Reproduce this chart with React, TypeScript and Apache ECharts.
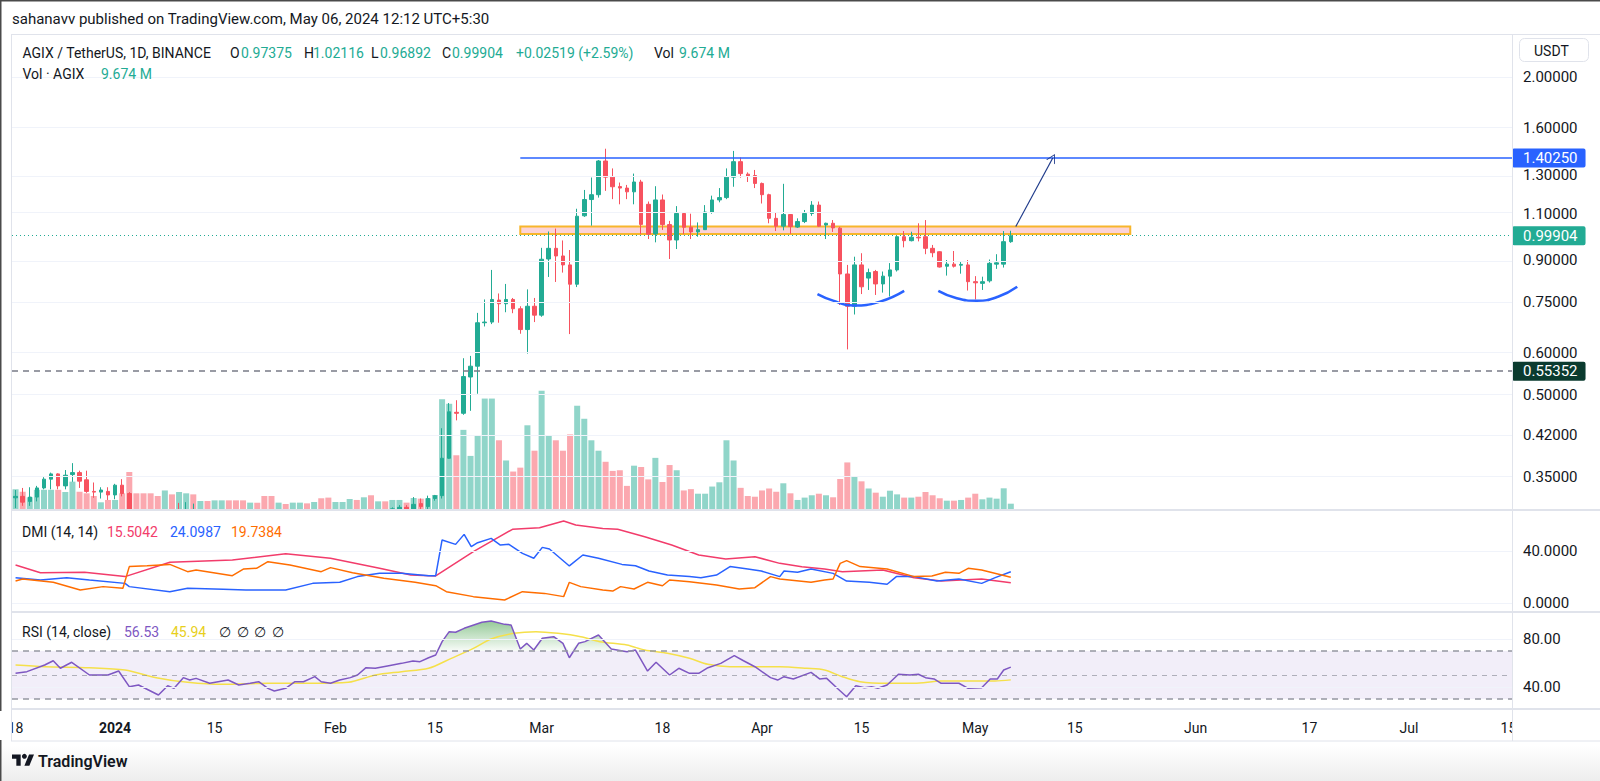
import React, { useEffect, useRef } from 'react';
import * as echarts from 'echarts';

// ---------- data ----------
const START_UTC = Date.UTC(2023, 11, 18);
const N_DAYS = 211; // Dec 18 2023 .. Jul 15 2024

const OPEN = [
  0.319,0.321,0.314,0.320,0.333,0.346,0.354,0.336,0.353,0.356,
  0.345,0.328,0.327,0.328,0.323,0.337,0.325,0.285,0.280,0.272,
  0.266,0.262,0.279,0.272,0.291,0.298,0.283,0.288,0.279,0.284,
  0.289,0.281,0.272,0.262,0.266,0.258,0.246,0.238,0.245,0.241,
  0.249,0.256,0.251,0.259,0.250,0.243,0.251,0.258,0.272,0.268,
  0.284,0.279,0.293,0.289,0.302,0.306,0.300,0.311,0.307,0.318,
  0.322,0.379,0.463,0.461,0.540,0.566,0.684,0.686,0.755,0.743,
  0.757,0.727,0.664,0.735,0.707,0.903,0.946,0.915,0.880,0.809,
  1.09,1.17,1.195,1.384,1.29,1.238,1.23,1.21,1.263,1.146,
  1.007,1.168,1.049,0.981,1.101,1.037,1.016,1.026,1.108,1.168,
  1.18,1.29,1.38,1.307,1.299,1.255,1.195,1.078,1.042,1.096,
  1.038,1.063,1.101,1.142,1.047,1.055,1.033,0.846,0.735,0.880,
  0.831,0.855,0.810,0.838,0.861,0.995,0.978,0.993,0.995,0.946,
  0.932,0.875,0.883,0.879,0.880,0.818,0.812,0.821,0.883,0.883,
  0.97375,
];
const HIGH = [
  0.330,0.333,0.334,0.336,0.349,0.356,0.355,0.360,0.371,0.359,
  0.359,0.341,0.334,0.334,0.339,0.346,0.327,0.303,0.288,0.278,
  0.272,0.284,0.286,0.312,0.313,0.311,0.294,0.292,0.289,0.294,
  0.292,0.285,0.275,0.270,0.268,0.261,0.250,0.249,0.247,0.252,
  0.259,0.258,0.262,0.263,0.253,0.254,0.261,0.275,0.276,0.288,
  0.291,0.297,0.298,0.306,0.309,0.309,0.320,0.318,0.322,0.323,
  0.432,0.482,0.488,0.586,0.592,0.714,0.757,0.861,0.777,0.810,
  0.762,0.735,0.791,0.762,0.948,1.018,1.031,0.979,0.939,1.124,
  1.22,1.288,1.39,1.46,1.34,1.26,1.247,1.31,1.275,1.16,
  1.24,1.196,1.066,1.137,1.105,1.10,1.059,1.142,1.19,1.23,
  1.34,1.446,1.405,1.317,1.331,1.26,1.20,1.107,1.253,1.098,
  1.078,1.118,1.162,1.16,1.058,1.07,1.039,0.880,0.912,0.926,
  0.866,0.861,0.855,0.887,0.998,1.02,1.017,1.055,1.07,0.96,
  0.934,0.899,0.935,0.894,0.899,0.838,0.836,0.901,0.922,1.02,
  1.02116,
];
const LOW = [
  0.305,0.308,0.308,0.314,0.331,0.331,0.331,0.331,0.342,0.333,
  0.326,0.319,0.318,0.316,0.317,0.321,0.262,0.268,0.262,0.255,
  0.250,0.258,0.266,0.270,0.284,0.276,0.278,0.272,0.274,0.280,
  0.276,0.266,0.255,0.258,0.252,0.240,0.232,0.235,0.237,0.239,
  0.246,0.248,0.249,0.246,0.240,0.241,0.249,0.256,0.263,0.266,
  0.274,0.277,0.284,0.286,0.296,0.294,0.297,0.300,0.302,0.315,
  0.318,0.378,0.447,0.458,0.466,0.502,0.673,0.680,0.684,0.716,
  0.713,0.652,0.598,0.686,0.702,0.835,0.817,0.851,0.651,0.799,
  1.085,1.044,1.18,1.215,1.172,1.146,1.172,1.146,1.006,0.985,
  0.971,1.025,0.903,0.943,1.006,0.985,0.995,1.025,1.10,1.156,
  1.172,1.237,1.287,1.263,1.23,1.15,1.055,1.02,1.023,1.007,
  1.034,1.056,1.09,1.038,0.985,1.016,0.739,0.609,0.709,0.775,
  0.789,0.772,0.780,0.767,0.855,0.95,0.975,0.975,0.922,0.91,
  0.87,0.84,0.87,0.847,0.787,0.757,0.789,0.815,0.865,0.87,
  0.96892,
];
const CLOSE = [
  0.321,0.313,0.320,0.333,0.346,0.354,0.336,0.352,0.356,0.343,
  0.328,0.327,0.330,0.323,0.337,0.325,0.285,0.280,0.272,0.266,
  0.262,0.279,0.272,0.291,0.298,0.283,0.288,0.279,0.284,0.289,
  0.281,0.272,0.262,0.266,0.258,0.246,0.238,0.245,0.241,0.249,
  0.256,0.251,0.259,0.250,0.243,0.251,0.258,0.272,0.268,0.284,
  0.279,0.293,0.289,0.304,0.306,0.300,0.310,0.307,0.318,0.322,
  0.379,0.464,0.461,0.541,0.566,0.684,0.686,0.757,0.743,0.757,
  0.727,0.664,0.735,0.707,0.902,0.946,0.915,0.880,0.809,1.088,
  1.17,1.195,1.384,1.29,1.237,1.23,1.21,1.263,1.05,1.006,
  1.168,1.049,0.981,1.101,1.037,1.016,1.026,1.108,1.168,1.18,
  1.29,1.38,1.31,1.297,1.255,1.195,1.078,1.042,1.096,1.04,
  1.063,1.101,1.142,1.042,1.055,1.034,0.846,0.735,0.880,0.800,
  0.851,0.810,0.838,0.861,0.995,0.978,0.993,0.990,0.946,0.928,
  0.872,0.883,0.875,0.882,0.818,0.814,0.818,0.886,0.888,0.97385,
  0.99904,
];
// volume in millions
const VOLUME = [
  32,28,19.5,31,31,31,31,27.6,43.5,28,
  25.6,21.5,11.8,15.4,15.4,25.6,58.3,25.6,25.6,25.6,
  21.5,30,24,27.6,25.6,24,13.8,13.8,14.8,14.8,
  14.8,14.8,14.8,11.3,11.3,21.5,21.5,11.3,9.2,11.3,
  11.3,10.2,12.3,18,19,12.3,12.3,16.9,15.4,19.5,
  22.6,13.3,13.3,15.4,15.4,11.3,18.4,17.4,17.9,23,
  170,163,84,123,83,115,171,171,107,76,
  59,65,130,91,183,115,107,91,116,160,
  140,107,91,74,60,61,37,68,66,47,
  80,43,69,61,30,32,25,25,36,42.5,
  107,76,34,21.5,20.4,30,33,28,41,25.6,
  15.4,19,22.6,25,22.6,19.5,47.6,73,52,44,
  33,26.6,20.4,29.6,24,19,19,20.4,27.6,22.6,
  18,14.3,14.3,15.4,19,25,16.4,19,17.4,33.3,
  9.674,
];

// DMI : [day index, value]
const ADX: [number, number][] = [
  [0,29.2],[3.5,23.3],[9.7,23.6],[15.4,20.3],[21.7,31.3],[30.5,33.1],[38,37.9],[44.3,34.4],
  [51.2,26.7],[55.6,21.5],[59.1,20.8],[64.4,39.5],[69.9,56.7],[73.7,57.9],[77.1,63.1],[78.8,60],
  [82.6,57.4],[84.7,56.7],[88.5,51],[92.3,44.6],[96.1,36.9],[99.9,33.8],[104,35.6],[107.5,30.5],
  [110.6,27.9],[113.8,26.2],[116.3,24.1],[122,25.4],[126.4,19.5],[130.2,16.9],[135.9,18.5],[140,15.5042],
];
const PLUS_DI: [number, number][] = [
  [0,19.5],[3.5,17.7],[7.2,19.5],[10.4,17.7],[15.4,15.1],[16,12.6],[21.7,8.7],[24.2,11.3],
  [29.2,10.5],[32.4,10],[38,10],[41.8,15.1],[45.6,15.9],[48.1,20.3],[51.2,22.8],[54.3,22.8],
  [58.1,21],[59.1,21],[60,48.5],[61.9,45.1],[63.1,52.8],[64.1,43.3],[65,46.4],[66.9,49.7],
  [68.2,44.6],[69.4,45.1],[71.3,38.2],[72.9,34.4],[74.1,42.8],[75.1,41.5],[77.9,28.5],[79.8,36.9],
  [82,34.4],[85.3,29.7],[87.2,28.7],[89.1,24.6],[91.7,21.5],[94.8,20.3],[96.4,19.5],[98.6,21.5],
  [100.5,28],[103,26.2],[104.9,24.6],[107.5,20.3],[108.1,24.6],[110,23.6],[111.9,26.2],[115,22.8],
  [116.9,16.9],[120.1,15.9],[122.6,14.4],[123.9,20.3],[126.4,20.3],[129.6,16.9],[132.7,18.5],
  [135.9,15.1],[137.8,19.5],[140,24.0987],
];
const MINUS_DI: [number, number][] = [
  [0,16.9],[1,18.5],[5.3,15.9],[9.1,10],[12.3,12.6],[15.1,11.3],[16,28],[18.5,28.7],
  [21.7,29.7],[24.2,24.1],[25.4,25.4],[30.5,21],[32.1,26.2],[33.9,26.7],[35.5,31.8],[38.6,29.2],
  [43,24.1],[44.3,27.2],[47.4,23.3],[51.8,19],[56.2,15.9],[59.1,13.3],[60.6,8.7],[64.4,4.9],
  [68.8,2.3],[71.3,8.7],[74.4,7.4],[77.1,4.9],[77.9,15.9],[79.5,12.6],[82.6,10],[84,9.2],
  [85.1,12.6],[87,10.8],[88.9,15.9],[91,13.3],[92,17.7],[94.8,16.4],[98.6,13.8],[101.8,10.8],
  [104,11.8],[106.2,20.3],[107.5,18.5],[111.9,15.9],[113.8,17.7],[115,18.5],[116,30.5],[116.9,32.6],
  [118.8,28],[122.6,26.2],[126.4,20.3],[128.9,20.8],[130.8,23.6],[132.7,22.8],[134,26.7],
  [135.9,25.4],[140,19.7384],
];
// RSI (14) and its moving average : [day index, value]
const RSI: [number, number][] = [
  [0,51.4],[1.6,52.8],[4.1,58.3],[5.3,61.9],[6.3,55.6],[7.9,60.6],[10.4,50],[13,50],
  [14.5,53.3],[16,40.3],[17.3,41.7],[20.1,33.3],[21.4,41.1],[22.3,38.9],[23.6,47.8],[24.5,45.8],
  [25.4,47.2],[27.3,43.1],[29.9,45.8],[31.4,41.7],[33,43.1],[34.2,44.4],[35.5,38.9],[36.4,36.7],
  [38,38.9],[39.3,44.4],[40.5,44.4],[42.1,48.6],[43,44.4],[44.3,43.1],[45.6,45.8],[47.1,47.8],
  [48.1,50],[49.3,56.1],[50.6,55.6],[52.5,57.8],[54.3,59.7],[55.9,61.7],[56.9,61.1],[58.1,64.4],
  [59.1,66.7],[60,77.8],[61,86.1],[61.9,85.6],[63.1,88.9],[65.6,93.9],[66.9,95],[68.8,92.2],
  [69.7,91.7],[71,71.7],[71.9,76.4],[72.9,70.8],[74.1,80.6],[75.7,81.9],[77,76.4],[77.9,64.4],
  [79.2,76.4],[80.1,77.8],[82,83.3],[83.8,71.7],[86,69.4],[87.2,70.8],[88.9,53.3],[90.1,60.6],
  [92,50],[93.3,55.6],[94.8,51.4],[96.1,51.4],[97.4,56.1],[99.2,59.7],[101.1,66.1],[102.4,61.9],
  [104,56.9],[106.2,47.8],[107.2,45.8],[108.1,48.6],[109.4,46.7],[111.9,52.2],[113.1,46.7],
  [114.1,47.2],[115.7,38.3],[116.9,31.9],[118.2,41.1],[119.4,39.4],[120.4,40.3],[121.3,38.9],
  [122.6,41.7],[124.2,50.6],[125.8,50],[127,50.6],[128,47.8],[129.2,46.7],[130.2,43.1],
  [132.7,43.1],[134,38.9],[135.9,39.4],[137.1,46.7],[138.1,46.7],[139,54.2],[140,56.53],
];
const RSI_MA: [number, number][] = [
  [0,58.3],[4.1,56.9],[10.4,56.1],[15.4,54.2],[19.8,47.8],[24.2,43.9],[29.2,42.2],[35.5,43.1],
  [41.8,43.1],[46.8,43.9],[50.6,50],[54.3,52.8],[58.1,55.6],[61.3,63.9],[64.4,72.2],[66.9,80],
  [70.1,84.7],[73.2,86.1],[76.3,84.7],[79.5,81.9],[82.2,77.8],[86,75],[88.5,70.8],[91.7,68.1],
  [94.8,63.9],[97.4,58.9],[100.5,56.9],[103.6,56.9],[107.5,56.9],[111.3,55.6],[113.8,54.2],
  [116.3,48.6],[118.8,44.4],[122.6,43.1],[126.4,43.1],[130.2,45],[134,45],[137.8,45],[140,45.94],
];

const PRICE_TICKS = [2.0, 1.6, 1.3, 1.1, 0.9, 0.75, 0.6, 0.5, 0.42, 0.35];
const RESISTANCE = 1.4025;
const LAST_PRICE = 0.99904;
const SUPPORT = 0.55352;
const DMI_TICKS = [0, 40];
const RSI_TICKS = [40, 80];
const RSI_LEVELS = [70, 50, 30];
const TIME_LABELS: [number, string][] = [
  [0, '18'], [14, '2024'], [28, '15'], [45, 'Feb'], [59, '15'], [74, 'Mar'], [91, '18'],
  [105, 'Apr'], [119, '15'], [135, 'May'], [149, '15'], [166, 'Jun'], [182, '17'], [196, 'Jul'], [210, '15'],
];
// drawings (data space: [day index, price])
const RES_FROM = 71;
const ZONE: [number, number, number, number] = [71, 156.8, 1.0403, 1.0069];
const ARROW: [number, number][] = [[140.7, 1.04], [145.9, 1.4025]];
const ARC1: [number, number][] = [[112.8, 0.775], [115.0, 0.753], [117.8, 0.737], [121.6, 0.750], [125.0, 0.786]];
const ARC2: [number, number][] = [[129.8, 0.786], [132.4, 0.761], [135.2, 0.753], [138.2, 0.766], [140.9, 0.800]];

// ---------- styling ----------
const UP = '#22ab94';
const DOWN = '#f7525f';
const VUP = 'rgba(34,171,148,0.5)';
const VDOWN = 'rgba(247,82,95,0.5)';
const GRID_LINE = '#f0f3fa';
const FRAME = '#e0e3eb';
const TXT = '#131722';
const FONT = 'Roboto, "Noto Sans", sans-serif';

echarts.graphic.registerShape(
  'tvlogo',
  echarts.graphic.extendPath('M14 22H7V11H0V4h14v18zM28 22h-8l7.5-18h8L28 22z', {}) as any
);

const L = Math.log;
const YMIN = L(2) - (510 - 76.5) / 229.5;
const YMAX = L(2) + (76.5 - 36) / 229.5;

function buildOption() {
  const dates: string[] = [];
  for (let i = 0; i < N_DAYS; i++) {
    const d = new Date(START_UTC + i * 86400000);
    dates.push(d.toISOString().slice(0, 10));
  }
  const labelMap = new Map<number, string>(TIME_LABELS);

  // candles are cut at the bottom edge of the price pane (like the pane clipping)
  const clampLow = (v: number) => Math.max(L(v), YMIN);
  const candles = OPEN.map((o, i) => {
    if (L(HIGH[i]) < YMIN) return '-';
    return [clampLow(o), clampLow(CLOSE[i]), clampLow(LOW[i]), L(HIGH[i])];
  });
  const vols = VOLUME.map((v, i) => ({
    value: v,
    itemStyle: { color: CLOSE[i] >= OPEN[i] ? VUP : VDOWN },
  }));
  const logPts = (pts: [number, number][]) => pts.map(([x, p]) => [x, L(p)]);
  const rsiOB = RSI.filter(([x]) => x >= 59 && x <= 88.9).map(([x, v]) => [x, Math.max(v, 70)]);

  const hidden = { show: false };
  const noLine = { axisLine: hidden, axisTick: hidden, splitLine: hidden };

  const txt = (x: number, y: number, text: string, fill: string, size = 14, weight: any = 'normal', extra: any = {}) => ({
    type: 'text', x, y, silent: true, z: 50,
    style: { text, fill, fontSize: size, fontWeight: weight, fontFamily: FONT, verticalAlign: 'middle', align: 'left', ...extra },
  });
  const hline = (y: number, x1: number, x2: number, color = FRAME, w = 1) => ({
    type: 'line', silent: true, z: 40, shape: { x1, y1: y, x2, y2: y }, style: { stroke: color, lineWidth: w },
  });
  const vline = (x: number, y1: number, y2: number, color = FRAME, w = 1) => ({
    type: 'line', silent: true, z: 40, shape: { x1: x, y1, x2: x, y2 }, style: { stroke: color, lineWidth: w },
  });

  const gridSeries = (xi: number, yi: number, data: any[], area?: any) => ({
    type: 'line', xAxisIndex: xi, yAxisIndex: yi, data: [[-10, -1000]], silent: true, z: 0,
    showSymbol: false, lineStyle: { opacity: 0 },
    markLine: { silent: true, symbol: ['none', 'none'], label: { show: false }, data },
    ...(area ? { markArea: area } : {}),
  });

  const priceLabel = (v: number) => {
    const p = Math.exp(v);
    if (Math.abs(p - RESISTANCE) < 1e-4) return '{blue|' + RESISTANCE.toFixed(5) + '}';
    if (Math.abs(p - LAST_PRICE) < 1e-4) return '{teal|' + LAST_PRICE.toFixed(5) + '}';
    return '{dark|' + SUPPORT.toFixed(5) + '}';
  };
  const box = (bg: string) => ({
    backgroundColor: bg, color: '#ffffff', fontSize: 15, fontFamily: FONT,
    padding: [2, 8, 2, 11], borderRadius: 2, lineHeight: 16,
  });

  return {
    animation: false,
    backgroundColor: '#ffffff',
    textStyle: { fontFamily: FONT },
    grid: [
      { left: 12, top: 36, width: 1500, height: 474 },
      { left: 12, top: 250, width: 1500, height: 260 },
      { left: 12, top: 510, width: 1500, height: 102 },
      { left: 12, top: 612, width: 1500, height: 97 },
    ],
    xAxis: [
      { type: 'category', gridIndex: 0, data: dates, show: false, position: 'bottom' },
      { type: 'category', gridIndex: 1, data: dates, show: false, position: 'bottom' },
      { type: 'value', gridIndex: 0, min: -0.5, max: N_DAYS - 0.5, show: false, position: 'top' },
      { type: 'value', gridIndex: 2, min: -0.5, max: N_DAYS - 0.5, show: false, position: 'top' },
      { type: 'value', gridIndex: 3, min: -0.5, max: N_DAYS - 0.5, show: false, position: 'top' },
      {
        type: 'category', gridIndex: 3, data: dates, position: 'bottom',
        axisLine: { show: false, onZero: false }, axisTick: hidden, splitLine: hidden,
        axisLabel: {
          interval: (i: number) => labelMap.has(i),
          formatter: (_v: string, i: number) => {
            const t = labelMap.get(i) || '';
            return t === '2024' ? '{b|2024}' : t;
          },
          rich: { b: { fontWeight: 'bold', fontSize: 14, color: TXT, fontFamily: FONT } },
          color: TXT, fontSize: 14, margin: 12, fontFamily: FONT,
        },
      },
    ],
    yAxis: [
      {
        type: 'value', gridIndex: 0, position: 'right', min: YMIN, max: YMAX, ...noLine,
        axisLabel: {
          customValues: PRICE_TICKS.map(L), formatter: (v: number) => Math.exp(v).toFixed(5),
          color: TXT, fontSize: 15, margin: 11, fontFamily: FONT,
        },
      },
      {
        type: 'value', gridIndex: 0, position: 'right', min: YMIN, max: YMAX, ...noLine,
        axisLabel: {
          customValues: [RESISTANCE, LAST_PRICE, SUPPORT].map(L), formatter: priceLabel, margin: 0,
          rich: { blue: box('#2962ff'), teal: box('#22ab94'), dark: box('#0b3b2f') },
        },
      },
      { type: 'value', gridIndex: 1, min: 0, max: 399, show: false },
      {
        type: 'value', gridIndex: 2, position: 'right', min: -6.92, max: 71.54, ...noLine,
        axisLabel: { customValues: DMI_TICKS, formatter: (v: number) => v.toFixed(4), color: TXT, fontSize: 15, margin: 11, fontFamily: FONT },
      },
      {
        type: 'value', gridIndex: 3, position: 'right', min: 21.67, max: 102.5, ...noLine,
        axisLabel: { customValues: RSI_TICKS, formatter: (v: number) => v.toFixed(2), color: TXT, fontSize: 15, margin: 11, fontFamily: FONT },
      },
    ],
    series: [
      gridSeries(2, 0, PRICE_TICKS.map((v) => ({ yAxis: L(v), lineStyle: { color: GRID_LINE, width: 1, type: 'solid' } }))),
      gridSeries(3, 3, DMI_TICKS.map((v) => ({ yAxis: v, lineStyle: { color: GRID_LINE, width: 1, type: 'solid' } }))),
      gridSeries(
        4, 4,
        [
          ...RSI_TICKS.map((v) => ({ yAxis: v, lineStyle: { color: GRID_LINE, width: 1, type: 'solid' } })),
          ...RSI_LEVELS.map((v) => ({
            yAxis: v,
            lineStyle: v === 50
              ? { color: 'rgba(120,123,134,0.55)', width: 1, type: [5, 5] }
              : { color: '#9598a1', width: 1.5, type: [6, 5] },
          })),
        ],
        { silent: true, itemStyle: { color: 'rgba(126,87,194,0.1)' }, data: [[{ yAxis: 30 }, { yAxis: 70 }]] }
      ),
      {
        type: 'bar', name: 'Vol', xAxisIndex: 1, yAxisIndex: 2, data: vols, barWidth: 6, z: 1, silent: true,
      },
      {
        type: 'candlestick', name: 'AGIX', xAxisIndex: 0, yAxisIndex: 0, data: candles, barWidth: 4, z: 3,
        clip: true, silent: true,
        itemStyle: { color: UP, color0: DOWN, borderColor: UP, borderColor0: DOWN, borderWidth: 1 },
        markLine: {
          silent: true, symbol: ['none', 'none'], label: { show: false },
          data: [
            { yAxis: L(LAST_PRICE), lineStyle: { color: UP, width: 1, type: [1, 3] } },
            { yAxis: L(SUPPORT), lineStyle: { color: '#787b86', width: 1.5, type: [6, 5] } },
          ],
        },
      },
      {
        type: 'line', name: 'resistance', xAxisIndex: 2, yAxisIndex: 0, z: 4, silent: true,
        data: [[RES_FROM, L(RESISTANCE)], [N_DAYS - 0.5, L(RESISTANCE)]],
        showSymbol: false, lineStyle: { color: '#2962ff', width: 1.5 },
        markArea: {
          silent: true,
          itemStyle: { color: 'rgba(242,54,69,0.22)', borderColor: '#f7b62b', borderWidth: 2 },
          data: [[{ coord: [ZONE[0], L(ZONE[2])] }, { coord: [ZONE[1], L(ZONE[3])] }]],
        },
        markLine: {
          silent: true, label: { show: false },
          symbol: ['none', 'path://M0,10 L5,0 L10,10 L9,10 L5,2 L1,10 Z'], symbolSize: [10, 9],
          lineStyle: { color: '#1e3a8a', width: 1.2, type: 'solid' },
          data: [[{ coord: [ARROW[0][0], L(ARROW[0][1])] }, { coord: [ARROW[1][0], L(ARROW[1][1])] }]],
        },
      },
      {
        type: 'line', name: 'arc1', xAxisIndex: 2, yAxisIndex: 0, z: 4, silent: true, smooth: true,
        data: logPts(ARC1), showSymbol: false, lineStyle: { color: '#2962ff', width: 2.5 },
      },
      {
        type: 'line', name: 'arc2', xAxisIndex: 2, yAxisIndex: 0, z: 4, silent: true, smooth: true,
        data: logPts(ARC2), showSymbol: false, lineStyle: { color: '#2962ff', width: 2.5 },
      },
      {
        type: 'line', name: 'ADX', xAxisIndex: 3, yAxisIndex: 3, data: ADX, showSymbol: false, silent: true,
        lineStyle: { color: '#f23c6b', width: 1.5 }, z: 3,
      },
      {
        type: 'line', name: '+DI', xAxisIndex: 3, yAxisIndex: 3, data: PLUS_DI, showSymbol: false, silent: true,
        lineStyle: { color: '#2962ff', width: 1.5 }, z: 3,
      },
      {
        type: 'line', name: '-DI', xAxisIndex: 3, yAxisIndex: 3, data: MINUS_DI, showSymbol: false, silent: true,
        lineStyle: { color: '#ff6d00', width: 1.5 }, z: 3,
      },
      {
        type: 'line', name: 'RSI-OB', xAxisIndex: 4, yAxisIndex: 4, data: rsiOB, showSymbol: false, silent: true,
        lineStyle: { opacity: 0 }, z: 1,
        areaStyle: {
          origin: 70,
          color: new echarts.graphic.LinearGradient(0, 0, 0, 1, [
            { offset: 0, color: 'rgba(67,160,71,0.8)' },
            { offset: 1, color: 'rgba(67,160,71,0.05)' },
          ]),
        },
      },
      {
        type: 'line', name: 'RSI MA', xAxisIndex: 4, yAxisIndex: 4, data: RSI_MA, showSymbol: false, silent: true,
        smooth: 0.3, lineStyle: { color: '#f5e04a', width: 1.5 }, z: 3,
      },
      {
        type: 'line', name: 'RSI', xAxisIndex: 4, yAxisIndex: 4, data: RSI, showSymbol: false, silent: true,
        lineStyle: { color: '#7e57c2', width: 1.5 }, z: 4,
      },
    ],
    graphic: [
      // frame
      hline(0.75, 0, 1600, '#4a4a4a', 1.5),
      vline(0.75, 0, 781, '#4a4a4a', 1.5),
      hline(34.5, 11, 1600),
      vline(11.5, 34.5, 741),
      vline(1512.5, 34.5, 741),
      hline(510, 11, 1600, FRAME, 2),
      hline(612, 11, 1600, FRAME, 2),
      hline(709, 11, 1600, FRAME, 2),
      hline(741, 11, 1600),
      { type: 'rect', silent: true, z: 100, shape: { x: 0, y: 711, width: 11, height: 29 }, style: { fill: '#ffffff' } },
      { type: 'rect', silent: true, z: 100, shape: { x: 1513, y: 711, width: 87, height: 29 }, style: { fill: '#ffffff' } },
      {
        type: 'rect', silent: true, z: 1, shape: { x: 1.5, y: 745, width: 1598.5, height: 36 },
        style: {
          fill: new echarts.graphic.LinearGradient(0, 0, 0, 1, [
            { offset: 0, color: 'rgba(0,0,0,0)' },
            { offset: 1, color: 'rgba(0,0,0,0.07)' },
          ]),
        },
      },
      // header
      txt(12, 19, 'sahanavv published on TradingView.com, May 06, 2024 12:12 UTC+5:30', TXT, 15),
      txt(22.5, 53, 'AGIX / TetherUS, 1D, BINANCE', TXT),
      txt(230, 53, 'O', TXT), txt(241, 53, '0.97375', UP),
      txt(304, 53, 'H', TXT), txt(313, 53, '1.02116', UP),
      txt(371, 53, 'L', TXT), txt(380, 53, '0.96892', UP),
      txt(442, 53, 'C', TXT), txt(452, 53, '0.99904', UP),
      txt(516, 53, '+0.02519 (+2.59%)', UP),
      txt(654, 53, 'Vol', TXT), txt(679, 53, '9.674 M', UP),
      txt(22.5, 73.5, 'Vol · AGIX', TXT), txt(101, 73.5, '9.674 M', UP),
      // pane legends
      txt(22, 531.5, 'DMI (14, 14)', TXT),
      txt(107, 531.5, '15.5042', '#f23c6b'),
      txt(170, 531.5, '24.0987', '#2962ff'),
      txt(231, 531.5, '19.7384', '#ff6d00'),
      txt(22, 632, 'RSI (14, close)', TXT),
      txt(124, 632, '56.53', '#7e57c2'),
      txt(171, 632, '45.94', '#e8cf1c'),
      txt(219, 632, '∅', TXT), txt(237, 632, '∅', TXT), txt(254, 632, '∅', TXT), txt(272, 632, '∅', TXT),
      // price scale unit
      {
        type: 'rect', silent: true, z: 40, shape: { x: 1519.5, y: 38.5, width: 69, height: 23, r: 5 },
        style: { fill: '#ffffff', stroke: FRAME, lineWidth: 1 },
      },
      txt(1534, 50.5, 'USDT', TXT, 14),
      // footer
      { type: 'tvlogo', x: 12, y: 752, scaleX: 0.62, scaleY: 0.62, silent: true, z: 50, style: { fill: TXT } },
      { type: 'circle', silent: true, z: 50, shape: { cx: 12 + 20 * 0.62, cy: 752 + 7 * 0.62, r: 4 * 0.62 }, style: { fill: TXT } },
      txt(38, 761, 'TradingView', TXT, 16, 600),
    ],
  };
}

export default function App() {
  const ref = useRef<HTMLDivElement>(null);
  useEffect(() => {
    if (!ref.current) return;
    const chart = echarts.init(ref.current, null, { renderer: 'svg' });
    chart.setOption(buildOption() as any);
    return () => chart.dispose();
  }, []);
  return (
    <div
      ref={ref}
      style={{ position: 'fixed', left: 0, top: 0, width: 1600, height: 781, background: '#ffffff' }}
    />
  );
}
